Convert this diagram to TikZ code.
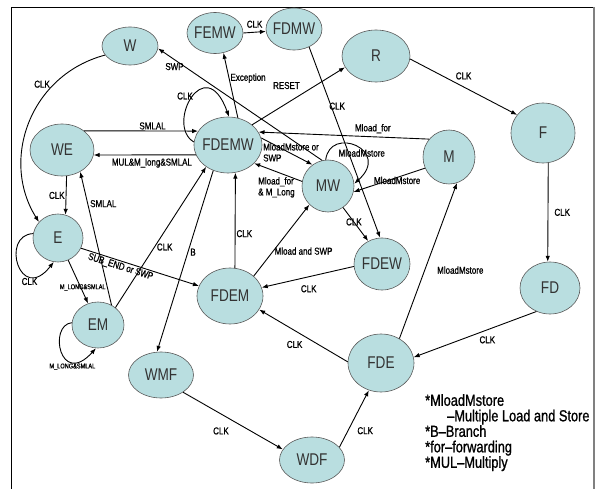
\documentclass[tikz,border=0pt]{standalone}
\usepackage{fontspec}
\setmainfont{Liberation Sans}
\newfontfamily\narrowfont[FakeStretch=0.8]{Liberation Sans}
\newfontfamily\lblfont[FakeStretch=0.8, FakeBold=1]{Liberation Sans}
\usepackage{tikz}
\usetikzlibrary{shapes.geometric, arrows.meta}
\definecolor{statefill}{RGB}{185,222,224}

\begin{document}
\begin{tikzpicture}[x=1pt, y=-1pt,
    state/.style={ellipse, draw=black!65, fill=statefill, line width=0.6pt, inner xsep=-6pt, inner ysep=0pt, text=black!80, font=\narrowfont\fontsize{17}{17}\selectfont},
    trans/.style={-{Latex[length=6pt,width=4.5pt]}, line width=0.9pt},
    lbl/.style={inner sep=1pt, font=\lblfont\fontsize{10}{11}\selectfont},
    smalllbl/.style={inner sep=1pt, font=\lblfont\fontsize{7}{7}\selectfont}
  ]
  \useasboundingbox (0,0) rectangle (602,489);
  % Frame
  \draw[line width=0.8pt] (11,489) -- (11,7) -- (594,7);
  \draw[gray, line width=1.5pt] (594,7) -- (594,489);

  % States
  \node[state, minimum width=56pt, minimum height=38pt] (W) at (130,46) {W};
  \node[state, minimum width=56pt, minimum height=41pt] (FEMW) at (215,33) {FEMW};
  \node[state, minimum width=56pt, minimum height=42pt] (FDMW) at (294,29) {FDMW};
  \node[state, minimum width=68pt, minimum height=52pt] (R) at (376,56) {R};
  \node[state, minimum width=64pt, minimum height=60pt] (F) at (543,133) {F};
  \node[state, minimum width=52pt, minimum height=54pt] (M) at (449,157) {M};
  \node[state, minimum width=64pt, minimum height=52pt] (WE) at (62,150) {WE};
  \node[state, minimum width=68pt, minimum height=56pt] (FDEMW) at (228,145) {FDEMW};
  \node[state, minimum width=52pt, minimum height=52pt] (MW) at (328,186) {MW};
  \node[state, minimum width=50pt, minimum height=48pt] (E) at (58,238) {E};
  \node[state, minimum width=52pt, minimum height=46pt] (EM) at (98,325) {EM};
  \node[state, minimum width=66pt, minimum height=56pt] (FDEM) at (230,296) {FDEM};
  \node[state, minimum width=56pt, minimum height=52pt] (FDEW) at (382,264) {FDEW};
  \node[state, minimum width=60pt, minimum height=52pt] (FD) at (550,288) {FD};
  \node[state, minimum width=66pt, minimum height=58pt] (FDE) at (381,363) {FDE};
  \node[state, minimum width=65pt, minimum height=46pt] (WMF) at (161,375) {WMF};
  \node[state, minimum width=65pt, minimum height=46pt] (WDF) at (312,460) {WDF};

  % Left part: write-back and execute states
  \draw[trans] (W.200) .. controls (30,75) and (0,160) .. node[lbl, pos=0.3, above left=-1pt] (lWE) {CLK} (E.140);
  \draw[trans] (WE.-80) -- node[lbl, left] (lWEE) {CLK} (E.72);
  \draw[trans] (E.170) .. controls (0,235) and (20,305) .. node[lbl, pos=0.72, below=1pt] (lEE) {CLK} (E.-100);
  \draw[trans] (E) -- node[smalllbl, pos=0.63, xshift=2pt] (lEEM) {M\_LONG\&SMLAL} (EM);
  \draw[trans] (EM.175) .. controls (48,325) and (60,388) .. node[smalllbl, pos=0.8, below=1pt, xshift=-5pt] (lEMEM) {M\_LONG\&SMLAL} (EM.-95);
  \draw[trans] (EM.56) -- node[lbl, pos=0.76, right=1pt] (lEMWE) {SMLAL} (WE.-50);
  \draw[trans] (EM.45) -- node[lbl, pos=0.43, right=1pt] (lEMF) {CLK} (FDEMW.225);
  \draw[trans] (E.-24) -- node[lbl, sloped, below=0pt, pos=0.35] (lEFDEM) {SUB\_END or SWP} (FDEM.162);
  \draw[trans] (FDEMW.240) -- node[lbl, pos=0.45, right=1pt] (lB) {B} (WMF.100);
  \draw[trans] (WE.41) -- node[lbl, pos=0.6, above] (lWEF) {SMLAL} (FDEMW.155);
  \draw[trans] (FDEMW.197) -- node[lbl, pos=0.43, below=2pt] (lFWE) {MUL\&M\_long\&SMLAL} (WE.-9);

  % Top part
  \draw[trans] (FDEMW.175) .. controls (165,125) and (205,50) .. node[lbl, pos=0.45, above=1pt, xshift=-4pt] (lFF) {CLK} (FDEMW.88);
  \draw[trans] (FDEMW.70) -- node[lbl, pos=0.61, right] (lExc) {Exception} (FEMW.-67);
  \draw[trans] (FEMW.0) -- node[lbl, above=3pt] (lFEMW) {CLK} (FDMW.185);
  \draw[trans] (FDMW.-50) -- node[lbl, pos=0.31, xshift=6pt] (lFDMW) {CLK} (FDEW.94);
  \draw[trans] (FDEMW.40) -- node[lbl, pos=0.37, above=13pt] (lRESET) {RESET} (R.200);
  \draw[trans] (R.-5) -- node[lbl, pos=0.5, above=6pt] (lRF) {CLK} (F.145);
  \draw[trans] (MW.103) -- node[lbl, pos=0.9, below=2pt] (lSWP) {SWP} (W.-5);

  % Right part: fetch, decode and memory states
  \draw[trans] (F.-80) -- node[lbl, right=5pt] (lFFD) {CLK} (FD.95);
  \draw[trans] (FD.240) -- node[lbl, pos=0.4, below=5pt] (lFDFDE) {CLK} (FDE.10);
  \draw[trans] (FDE.53) -- node[lbl, pos=0.44, right=11pt] (lFDEM) {MloadMstore} (M.-73);
  \draw[trans] (FDE.178) -- node[lbl, pos=0.6, below=9pt] (lFDEFDEM) {CLK} (FDEM.-25);
  \draw[trans] (WMF.-38) -- node[lbl, pos=0.38, below=12pt] (lWMF) {CLK} (WDF.160);
  \draw[trans] (WDF.25) -- node[lbl, pos=0.29, right=8pt] (lWDF) {CLK} (FDE.-114);
  \draw[trans] (FDEM.80) -- node[lbl, pos=0.36, right] (lFDEMF) {CLK} (FDEMW.-75);
  \draw[trans] (FDEM.40) -- node[lbl, pos=0.35, right] (lMS) {Mload and SWP} (MW.225);
  \draw[trans] (FDEW.185) -- node[lbl, pos=0.49, below=7pt] (lFDEW) {CLK} (FDEM.15);
  \draw[trans] (MW.-55) -- node[lbl, pos=0.43] (lMWFDEW) {CLK} (FDEW.121);

  % Memory transitions round MW
  \draw[trans] (FDEMW.12) -- (MW.126);
  \node[lbl, anchor=north west, align=left] (lMMS) at (262,142) {MloadMstore or\\SWP};
  \draw[trans] (MW.170) -- (FDEMW.-35);
  \node[lbl, anchor=north west, align=left] (lMfor) at (257,176) {Mload\_for\\\& M\_Long};
  \draw[trans] (M.138) -- node[lbl, pos=0.33, above=2pt] (lMF) {Mload\_for} (FDEMW.23);
  \draw[trans] (M.205) -- node[lbl, pos=0.39, yshift=-3pt] (lMMW) {MloadMstore} (MW.-13);
  \draw[trans] (MW.95) .. controls (330,125) and (392,150) .. node[lbl, pos=0.5, xshift=6pt, yshift=-7pt] (lMWMW) {MloadMstore} (MW.5);

  % Legend
  \node[anchor=north west, align=left, inner sep=0pt, font=\lblfont\fontsize{16}{15.5}\selectfont] (legend) at (425,394) {%
    *MloadMstore\\
    \hspace*{22pt}–Multiple Load and Store\\
    *B–Branch\\
    *for–forwarding\\
    *MUL–Multiply};
\end{tikzpicture}
\end{document}
